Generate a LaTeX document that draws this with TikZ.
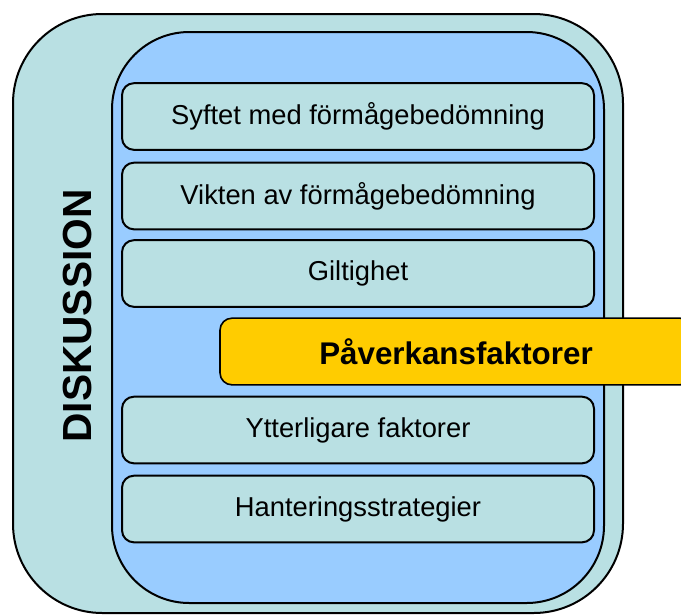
\documentclass[tikz,border=0pt]{standalone}
\usepackage{fontspec}
\setmainfont{Liberation Sans}
\usepackage{xcolor}
\usepackage{tikz}

\definecolor{ramgron}{HTML}{B9E0E3}
\definecolor{ramblue}{HTML}{99CCFF}
\definecolor{faktorgul}{HTML}{FFCC00}

\tikzset{
  rad/.style={draw, fill=ramgron, line width=1.5pt, rounded corners=9pt,
    minimum width=354pt, minimum height=50pt, inner sep=0pt,
    font=\fontsize{20.5}{24}\selectfont},
  markerad/.style={rad, fill=faktorgul, line width=1.2pt,
    font=\fontsize{23.5}{28}\selectfont\bfseries},
  rubrik/.style={inner sep=0pt, font=\fontsize{30.5}{36}\selectfont\bfseries}
}

\begin{document}
\begin{tikzpicture}[x=0.75pt,y=0.75pt,yscale=-1,xscale=1]
\useasboundingbox (0,0) rectangle (681,615);
\clip (0,0) rectangle (681,615);

% yttre ram
\draw [fill=ramgron, line width=1.5pt, rounded corners=67pt] (13,14) rectangle (623,613);
% inre ram
\draw [fill=ramblue, line width=1.5pt, rounded corners=58pt] (112,32) rectangle (604,603);

\node (diskussion) [rubrik, rotate=90] at (77,316) {DISKUSSION};

\node (syfte) [rad] at (358,116.5) {Syftet med förmågebedömning};
\node (vikten) [rad] at (358,196) {Vikten av förmågebedömning};
\node (giltighet) [rad] at (358,273.5) {Giltighet};
\node (paverkan) [markerad] at (456,351.5) {Påverkansfaktorer};
\node (ytterligare) [rad] at (358,430) {Ytterligare faktorer};
\node (hantering) [rad] at (358,509) {Hanteringsstrategier};

\end{tikzpicture}
\end{document}
